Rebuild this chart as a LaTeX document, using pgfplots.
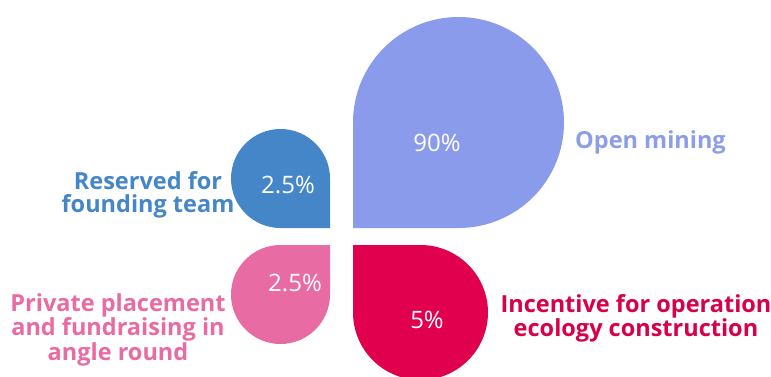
\documentclass[border=0pt]{standalone}
\usepackage{pgfplots}
\pgfplotsset{compat=1.18}
\usepackage{fontspec}
\setmainfont{Open Sans}
\definecolor{cOpen}{HTML}{8A9BEB}
\definecolor{cOpenT}{HTML}{8C9EE8}
\definecolor{cTeam}{HTML}{4586C8}
\definecolor{cPriv}{HTML}{E86BA3}
\definecolor{cInc}{HTML}{E0004D}
\definecolor{cIncT}{HTML}{D8004A}
\begin{document}
\begin{tikzpicture}
\begin{axis}[
  x=1pt, y=1pt,
  xmin=0, xmax=771, ymin=0, ymax=376,
  hide axis,
  clip=true,
]
% Open mining 90% (sharp corner at centre, bottom-left)
\addplot[draw=none, fill=cOpen, rounded corners=105.5pt] coordinates {
  (353,148) (564,148) (564,359) (353,359) (353,148)};
% Reserved for founding team 2.5%
\addplot[draw=none, fill=cTeam, rounded corners=49.5pt] coordinates {
  (330,148) (330,247) (231,247) (231,148) (330,148)};
% Private placement 2.5%
\addplot[draw=none, fill=cPriv, rounded corners=49.5pt] coordinates {
  (330,131) (231,131) (231,32) (330,32) (330,131)};
% Incentive 5%
\addplot[draw=none, fill=cInc, rounded corners=67.5pt] coordinates {
  (353,131) (488,131) (488,-4) (353,-4) (353,131)};

\node[text=white, font=\fontsize{24}{23}\selectfont] at (axis cs:437,233) {90\%};
\node[text=white, font=\fontsize{24}{23}\selectfont] at (axis cs:288,191) {2.5\%};
\node[text=white, font=\fontsize{24}{23}\selectfont] at (axis cs:295,93) {2.5\%};
\node[text=white, font=\fontsize{24}{23}\selectfont] at (axis cs:427,56) {5\%};

\node[text=cOpenT, font=\bfseries\fontsize{23.5}{23}\selectfont] at (axis cs:650.5,234) {Open mining};
\node[text=cIncT, font=\bfseries\fontsize{23.5}{23}\selectfont, align=center] at (axis cs:636,57.5) {Incentive for operation\\ecology construction};
\node[text=cTeam, font=\bfseries\fontsize{23.5}{23}\selectfont, align=center] at (axis cs:148,181) {Reserved for\\founding team};
\node[text=cPriv, font=\bfseries\fontsize{23.5}{23}\selectfont, align=center] at (axis cs:118,46.5) {Private placement\\and fundraising in\\angle round};
\end{axis}
\pgfresetboundingbox
\path (current axis.south west) rectangle (current axis.north east);
\end{tikzpicture}
\end{document}
